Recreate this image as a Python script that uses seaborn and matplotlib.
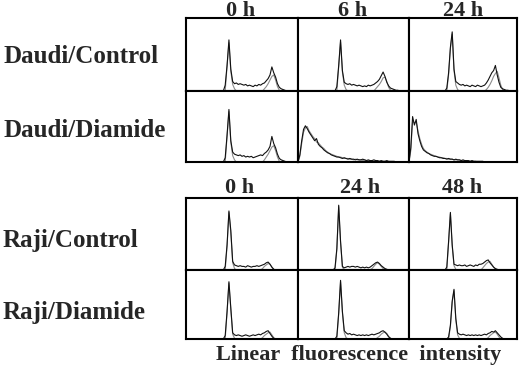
import numpy as np
import seaborn as sns
import matplotlib.pyplot as plt

sns.set_style("white")
plt.rcParams["font.family"] = ["Liberation Serif", "DejaVu Serif"]

row_labels = ["Daudi/Control", "Daudi/Diamide", "Raji/Control", "Raji/Diamide"]
daudi_times = ["0 h", "6 h", "24 h"]
raji_times = ["0 h", "24 h", "48 h"]
x_label = "Linear  fluorescence  intensity"

# DNA histograms, (first channel, counts as % of panel height); 60 channels per panel
daudi_ctrl_0h = (20, [0, 8, 35, 70, 30, 13, 10, 11, 9, 10, 9, 8, 9, 7, 8, 7, 6, 8, 7, 9, 8,
                      10, 11, 14, 17, 22, 33, 25, 19, 10, 5, 3, 2, 1, 0])
daudi_ctrl_6h = (20, [0, 6, 35, 70, 28, 12, 10, 9, 10, 8, 9, 8, 7, 8, 7, 6, 7, 6, 8, 7, 8,
                      9, 11, 13, 16, 21, 26, 20, 12, 7, 4, 3, 2, 1, 1, 0])
daudi_ctrl_24h = (20, [0, 4, 25, 60, 81, 30, 13, 11, 9, 8, 9, 7, 8, 7, 6, 8, 7, 6, 8, 7, 6,
                       7, 8, 11, 15, 20, 25, 28, 35, 22, 12, 5, 3, 2, 1, 1, 0])
daudi_diam_0h = (20, [0, 6, 38, 74, 30, 14, 11, 10, 9, 10, 8, 9, 7, 8, 7, 8, 6, 7, 8, 9, 10,
                      9, 12, 14, 17, 22, 36, 26, 20, 11, 5, 3, 2, 1, 0])
daudi_diam_6h = (0, [0, 10, 30, 46, 51, 47, 42, 38, 34, 30, 33, 25, 22, 20, 17, 15, 13, 12,
                     10, 9, 8, 7, 7, 6, 5, 6, 5, 4, 5, 4, 4, 3, 4, 3, 3, 4, 3, 2, 3, 2, 2,
                     3, 2, 2, 1, 2, 1, 1, 2, 1, 1, 1, 1, 0])
daudi_diam_24h = (0, [0, 20, 64, 52, 60, 40, 30, 22, 17, 15, 13, 12, 10, 9, 8, 8, 7, 6, 6, 5,
                      5, 4, 5, 4, 4, 3, 4, 3, 3, 2, 3, 2, 2, 2, 1, 2, 1, 1, 1, 1, 1, 1, 0])
raji_ctrl_0h = (20, [0, 5, 35, 82, 55, 12, 7, 6, 5, 6, 5, 5, 4, 6, 5, 4, 5, 5, 6, 5, 6, 7, 8,
                     10, 11, 8, 4, 1, 0])
raji_ctrl_24h = (19, [0, 3, 30, 90, 40, 5, 3, 4, 5, 4, 5, 5, 4, 5, 4, 3, 4, 3, 4, 3, 4, 6, 8,
                      10, 11, 9, 6, 4, 2, 1, 0])
raji_ctrl_48h = (20, [0, 4, 40, 80, 35, 8, 7, 6, 7, 6, 6, 7, 5, 6, 7, 6, 5, 7, 6, 8, 8, 9, 11,
                      13, 14, 10, 7, 4, 2, 1, 0])
raji_diam_0h = (20, [0, 5, 40, 83, 45, 9, 6, 5, 6, 5, 4, 5, 6, 5, 4, 5, 6, 5, 6, 7, 6, 8, 9,
                     11, 12, 8, 4, 1, 0])
raji_diam_24h = (20, [0, 4, 38, 85, 40, 12, 9, 7, 8, 6, 7, 6, 5, 6, 5, 6, 5, 6, 5, 6, 7, 6, 7,
                      8, 9, 11, 12, 10, 7, 3, 1, 0])
raji_diam_48h = (21, [0, 3, 20, 55, 72, 30, 9, 7, 6, 7, 6, 5, 6, 5, 6, 5, 6, 5, 6, 5, 6, 7, 6,
                      8, 9, 11, 10, 12, 9, 6, 3, 1, 0])

# grey overlay traces (G1 / G2 fits, second acquisition)
daudi_ctrl_0h_fit = [(21, [0, 34, 66, 27, 9, 3, 0]), (41, [0, 3, 6, 10, 15, 20, 22, 15, 6, 1, 0])]
daudi_ctrl_6h_fit = [(21, [0, 33, 67, 26, 8, 2, 0]), (41, [0, 3, 6, 9, 13, 18, 19, 13, 5, 1, 0])]
daudi_ctrl_24h_fit = [(21, [0, 22, 58, 78, 28, 8, 2, 0]),
                      (42, [0, 2, 5, 9, 14, 20, 24, 27, 18, 8, 2, 0])]
daudi_diam_0h_fit = [(21, [0, 36, 71, 28, 9, 3, 0]), (41, [0, 3, 7, 11, 16, 21, 23, 16, 7, 1, 0])]
daudi_diam_6h_fit = [(0, [0, 8, 26, 42, 48, 50, 44, 40, 36, 33, 28, 27, 24, 21, 19, 16, 14, 12,
                          11, 10, 9, 8, 7, 7, 6, 5, 5, 5, 4, 4, 3, 4, 3, 3, 3, 2, 3, 2, 2, 2,
                          2, 1, 2, 1, 1, 1, 1, 1, 0])]
daudi_diam_24h_fit = [(0, [0, 16, 58, 55, 56, 44, 33, 25, 19, 16, 14, 12, 11, 10, 9, 8, 7, 7, 6,
                           6, 5, 5, 4, 4, 4, 3, 3, 3, 3, 2, 2, 2, 2, 1, 1, 1, 1, 1, 0])]
raji_ctrl_0h_fit = [(21, [0, 33, 80, 52, 10, 2, 0]), (40, [0, 2, 5, 7, 9, 8, 4, 1, 0])]
raji_ctrl_24h_fit = [(20, [0, 28, 88, 38, 4, 0]), (39, [0, 2, 5, 8, 10, 8, 5, 2, 0])]
raji_ctrl_48h_fit = [(21, [0, 38, 78, 33, 6, 1, 0]), (40, [0, 3, 6, 9, 11, 12, 8, 4, 1, 0])]
raji_diam_0h_fit = [(21, [0, 38, 81, 43, 7, 1, 0]), (40, [0, 2, 5, 7, 9, 10, 6, 2, 0])]
raji_diam_24h_fit = [(21, [0, 36, 83, 38, 9, 2, 0]), (42, [0, 2, 4, 7, 9, 10, 8, 4, 1, 0])]
raji_diam_48h_fit = [(22, [0, 18, 53, 70, 28, 6, 1, 0]), (43, [0, 2, 5, 7, 9, 10, 7, 3, 0])]

W, H = 520, 365
fig = plt.figure(figsize=(5.2, 3.65), dpi=100)

col_edges = [186, 298, 409, 517]
grids = [
    ([18, 91, 162], [[daudi_ctrl_0h, daudi_ctrl_6h, daudi_ctrl_24h],
                     [daudi_diam_0h, daudi_diam_6h, daudi_diam_24h]],
     [[daudi_ctrl_0h_fit, daudi_ctrl_6h_fit, daudi_ctrl_24h_fit],
      [daudi_diam_0h_fit, daudi_diam_6h_fit, daudi_diam_24h_fit]]),
    ([198, 270, 339], [[raji_ctrl_0h, raji_ctrl_24h, raji_ctrl_48h],
                       [raji_diam_0h, raji_diam_24h, raji_diam_48h]],
     [[raji_ctrl_0h_fit, raji_ctrl_24h_fit, raji_ctrl_48h_fit],
      [raji_diam_0h_fit, raji_diam_24h_fit, raji_diam_48h_fit]]),
]

for row_edges, hists, fits in grids:
    for r in range(2):
        for c in range(3):
            left, right = col_edges[c], col_edges[c + 1]
            top, bottom = row_edges[r], row_edges[r + 1]
            ax = fig.add_axes([left / W, 1 - bottom / H, (right - left) / W, (bottom - top) / H])
            for start, vals in fits[r][c]:
                sns.lineplot(x=np.arange(start, start + len(vals)), y=vals, ax=ax,
                             color="#8c8c8c", lw=0.8)
            start, vals = hists[r][c]
            sns.lineplot(x=np.arange(start, start + len(vals)), y=vals, ax=ax,
                         color="#111111", lw=0.8)
            ax.set(xlim=(0, 60), ylim=(0, 100), xticks=[], yticks=[], xlabel="", ylabel="")
            for s in ax.spines.values():
                s.set_linewidth(1.5)
                s.set_color("black")

def txt(x, y, s, size, ha="left"):
    fig.text(x / W, 1 - y / H, s, fontsize=size, fontweight="bold", ha=ha, va="baseline")

for label, y in zip(row_labels, [63, 137, 247, 319]):
    txt(3, y, label, 18)
for t, x in zip(daudi_times, [241, 353, 463]):
    txt(x, 16, t, 16, ha="center")
for t, x in zip(raji_times, [240, 360, 462]):
    txt(x, 193, t, 16, ha="center")
txt(359, 360, x_label, 16, ha="center")

fig.savefig("out.png", dpi=100)
